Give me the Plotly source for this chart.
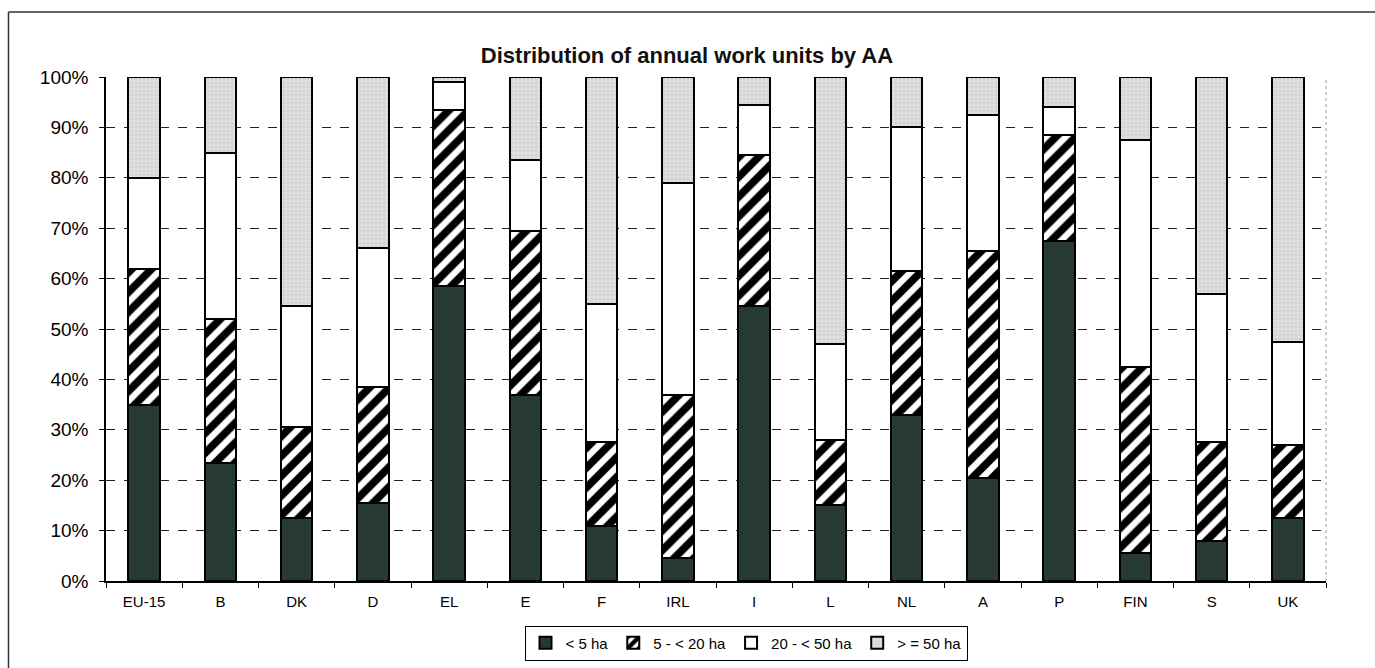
import plotly.graph_objects as go

categories = ["EU-15", "B", "DK", "D", "EL", "E", "F", "IRL", "I", "L", "NL", "A", "P", "FIN", "S", "UK"]
lt5 = [35, 23.5, 12.5, 15.5, 58.5, 37, 11, 4.5, 54.5, 15, 33, 20.5, 67.5, 5.5, 8, 12.5]
h5_20 = [27, 28.5, 18, 23, 35, 32.5, 16.5, 32.5, 30, 13, 28.5, 45, 21, 37, 19.5, 14.5]
h20_50 = [18, 33, 24, 27.5, 5.5, 14, 27.5, 42, 10, 19, 28.5, 27, 5.5, 45, 29.5, 20.5]
ge50 = [20, 15, 45.5, 34, 1, 16.5, 45, 21, 5.5, 53, 10, 7.5, 6, 12.5, 43, 52.5]
series_names = ["< 5 ha", "5 - < 20 ha", "20 - < 50 ha", "> = 50 ha"]
tick_vals = [0, 10, 20, 30, 40, 50, 60, 70, 80, 90, 100]
tick_text = [f"{v}%" for v in tick_vals]

W, H = 1375, 668
L, T, R, B = 106, 77, 49, 87
pw, ph = W - L - R, H - T - B
base = H - B  # pixel row of plot bottom


def py(Y):
    return (base - Y) / ph


def px(X):
    return (X - L) / pw


line = dict(color="black", width=2)
fig = go.Figure()
fig.add_bar(x=categories, y=lt5, name=series_names[0],
            marker=dict(color="#263a33", line=line))
fig.add_bar(x=categories, y=h5_20, name=series_names[1],
            marker=dict(color="white", line=line,
                        pattern=dict(shape="/", fgcolor="#000000", bgcolor="white",
                                     fgopacity=1, size=14, solidity=0.55)))
fig.add_bar(x=categories, y=h20_50, name=series_names[2],
            marker=dict(color="white", line=line))
fig.add_bar(x=categories, y=ge50, name=series_names[3],
            marker=dict(color="#d8d8d8", line=line,
                        pattern=dict(shape=".", fgcolor="#bdbdbd", bgcolor="#dedede",
                                     size=4, solidity=0.3)))

fig.update_layout(
    width=W, height=H,
    barmode="stack", bargap=0.59,
    paper_bgcolor="white", plot_bgcolor="white",
    margin=dict(l=L, r=R, t=T, b=B, autoexpand=False),
    font=dict(family="Liberation Sans, Arial, sans-serif", color="black"),
    title=dict(text="<b>Distribution of annual work units by AA</b>",
               x=(687 / W), xanchor="center", y=1 - 55 / H, yanchor="middle",
               font=dict(size=22, color="#111")),
    showlegend=True,
    legend=dict(orientation="h", x=px(746), xanchor="center",
                y=py(643), yanchor="middle",
                bordercolor="black", borderwidth=1, bgcolor="white",
                font=dict(size=15), traceorder="normal",
                itemwidth=30, tracegroupgap=0),
    xaxis=dict(showline=True, linecolor="black", linewidth=1.5,
               ticks="outside", tickson="boundaries", ticklen=5, tickcolor="black",
               tickfont=dict(size=15), ticklabelstandoff=6, showgrid=False),
    yaxis=dict(range=[0, 100], tickvals=tick_vals, ticktext=tick_text,
               showline=True, linecolor="black", linewidth=1.5,
               ticks="outside", ticklen=5, tickcolor="black",
               tickfont=dict(size=19), ticklabelstandoff=7,
               showgrid=True, gridcolor="#222", gridwidth=1, griddash="dash",
               zeroline=False),
    shapes=[
        dict(type="line", xref="paper", yref="paper",
             x0=px(8.5), x1=px(W), y0=py(12), y1=py(12),
             line=dict(color="#333", width=1.5)),
        dict(type="line", xref="paper", yref="paper",
             x0=px(8.5), x1=px(8.5), y0=py(H), y1=py(12),
             line=dict(color="#333", width=1.5)),
        dict(type="line", xref="paper", yref="paper", x0=1, x1=1, y0=0, y1=1,
             line=dict(color="#999", width=1, dash="dot")),
    ],
)

fig.write_html(
    "out.html",
    config={"displayModeBar": False},
    post_script="document.body.style.margin='0';document.body.style.overflow='hidden';",
)
